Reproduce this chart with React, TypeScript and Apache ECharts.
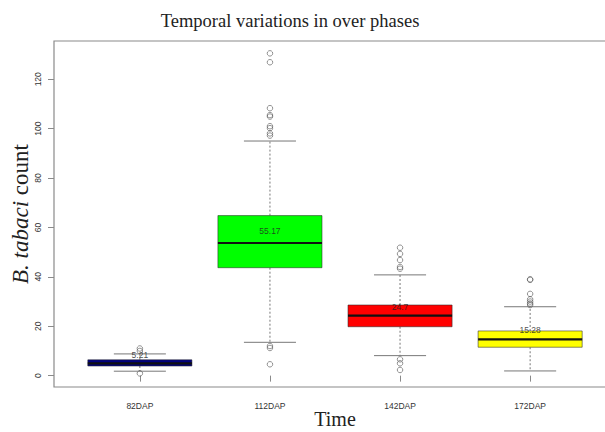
import React, { useEffect, useRef } from "react";
import * as echarts from "echarts";

const categories = ["82DAP", "112DAP", "142DAP", "172DAP"];
// [lowerWhisker, Q1, median, Q3, upperWhisker]
const boxStats = [
  [1.8, 3.9, 5.0, 6.4, 8.8],
  [13.5, 43.7, 53.7, 64.8, 95.0],
  [8.1, 19.8, 24.3, 28.6, 40.8],
  [1.9, 11.5, 14.7, 18.1, 27.9],
];
const means = [5.21, 55.17, 24.7, 15.28];
const meanLabels = ["5.21", "55.17", "24.7", "15.28"];
const outliers = [
  [10.0, 11.0, 0.9],
  [130.5, 126.9, 108.3, 105.5, 104.9, 101.0, 100.2, 98.1, 97.2, 12.0, 11.2, 4.6],
  [51.8, 49.3, 46.8, 44.0, 43.3, 6.6, 5.0, 2.3],
  [39.0, 38.8, 33.1, 30.9, 30.0, 29.2, 28.6],
];
const boxColors = ["#00007F", "#00FF00", "#FF0000", "#FFFF00"];
const yTicks = [0, 20, 40, 60, 80, 100, 120];
const xTicks = [1, 2, 3, 4];

const SANS = "'Liberation Sans', Arial, Helvetica, sans-serif";
const SERIF = "'Liberation Serif', 'Times New Roman', serif";

export default function App() {
  const ref = useRef<HTMLDivElement>(null);
  useEffect(() => {
    if (!ref.current) return;
    const chart = echarts.init(ref.current, null, { renderer: "svg" });
    const boxData = boxStats.map((s, i) => [i + 1, ...s]);
    const outlierData: number[][] = [];
    outliers.forEach((arr, i) => arr.forEach((v) => outlierData.push([i + 1, v])));
    const meanData = means.map((m, i) => ({ value: [i + 1, m], name: meanLabels[i] }));

    chart.setOption({
      animation: false,
      backgroundColor: "#ffffff",
      graphic: [
        {
          type: "text",
          x: 290,
          y: 21,
          style: {
            text: "Temporal variations in over phases",
            font: `18.5px ${SERIF}`,
            fill: "#222",
            align: "center",
            verticalAlign: "middle",
          },
        },
      ],
      grid: {
        left: 54,
        right: 24,
        top: 41,
        bottom: 45,
        containLabel: false,
        outerBoundsMode: "none",
        show: true,
        borderColor: "#8a8a8a",
        borderWidth: 1.2,
        backgroundColor: "transparent",
      },
      xAxis: {
        type: "value",
        min: 0.34,
        max: 4.66,
        name: "Time",
        nameLocation: "middle",
        nameGap: 22,
        nameMoveOverlap: false,
        nameTextStyle: { fontFamily: SERIF, fontSize: 20, color: "#222" },
        splitLine: { show: false },
        axisLine: { show: false },
        axisTick: {
          show: true,
          customValues: xTicks,
          length: 6,
          lineStyle: { color: "#8a8a8a" },
        },
        axisLabel: {
          customValues: xTicks,
          fontFamily: SANS,
          fontSize: 8.5,
          color: "#333",
          margin: 14,
          formatter: (v: number) => categories[Math.round(v) - 1] ?? "",
        },
      },
      yAxis: {
        type: "value",
        min: -4.6,
        max: 135.5,
        name: "{i|B. tabaci} count",
        nameLocation: "middle",
        nameRotate: 90,
        nameGap: 22,
        nameMoveOverlap: false,
        nameTextStyle: {
          fontFamily: SERIF,
          fontSize: 23,
          color: "#222",
          rich: {
            i: { fontFamily: SERIF, fontSize: 23, fontStyle: "italic", color: "#222" },
          },
        },
        splitLine: { show: false },
        axisLine: { show: false },
        axisTick: {
          show: true,
          customValues: yTicks,
          length: 6,
          lineStyle: { color: "#8a8a8a" },
        },
        axisLabel: {
          customValues: yTicks,
          rotate: 90,
          fontFamily: SANS,
          fontSize: 8.5,
          color: "#333",
          margin: 12,
        },
      },
      series: [
        {
          type: "custom",
          data: boxData,
          encode: { x: 0, y: [1, 2, 3, 4, 5] },
          renderItem: (params: any, api: any) => {
            const x = api.value(0);
            const lo = api.coord([x, api.value(1)]);
            const q1 = api.coord([x, api.value(2)]);
            const med = api.coord([x, api.value(3)]);
            const q3 = api.coord([x, api.value(4)]);
            const hi = api.coord([x, api.value(5)]);
            const half = api.size([0.4, 0])[0];
            const cap = half / 2;
            const cx = q1[0];
            const color = boxColors[params.dataIndex];
            const whiskerStyle = { stroke: "#777", lineWidth: 1, lineDash: [2, 2] };
            const capStyle = { stroke: "#777", lineWidth: 1 };
            return {
              type: "group",
              children: [
                { type: "line", shape: { x1: cx, y1: q3[1], x2: cx, y2: hi[1] }, style: whiskerStyle },
                { type: "line", shape: { x1: cx, y1: q1[1], x2: cx, y2: lo[1] }, style: whiskerStyle },
                { type: "line", shape: { x1: cx - cap, y1: hi[1], x2: cx + cap, y2: hi[1] }, style: capStyle },
                { type: "line", shape: { x1: cx - cap, y1: lo[1], x2: cx + cap, y2: lo[1] }, style: capStyle },
                {
                  type: "rect",
                  shape: { x: cx - half, y: q3[1], width: 2 * half, height: q1[1] - q3[1] },
                  style: { fill: color, stroke: "rgba(40,40,40,0.55)", lineWidth: 1 },
                },
                {
                  type: "line",
                  shape: { x1: cx - half, y1: med[1], x2: cx + half, y2: med[1] },
                  style: { stroke: "#111", lineWidth: 2.2 },
                },
              ],
            };
          },
          z: 2,
        },
        {
          type: "scatter",
          data: outlierData,
          symbol: "circle",
          symbolSize: 5.5,
          itemStyle: { color: "rgba(255,255,255,0)", borderColor: "#555", borderWidth: 0.8 },
          z: 3,
        },
        {
          type: "scatter",
          data: meanData,
          symbolSize: 0,
          label: {
            show: true,
            position: "inside",
            offset: [0, -8],
            formatter: (p: any) => p.name,
            fontFamily: SANS,
            fontSize: 8.5,
            color: "#222",
          },
          z: 4,
        },
      ],
    });
    return () => chart.dispose();
  }, []);
  return (
    <div
      style={{
        position: "fixed",
        left: 0,
        top: 0,
        width: 605,
        height: 432,
        overflow: "hidden",
        background: "#fff",
      }}
    >
      <div ref={ref} style={{ width: 640, height: 432 }} />
    </div>
  );
}
